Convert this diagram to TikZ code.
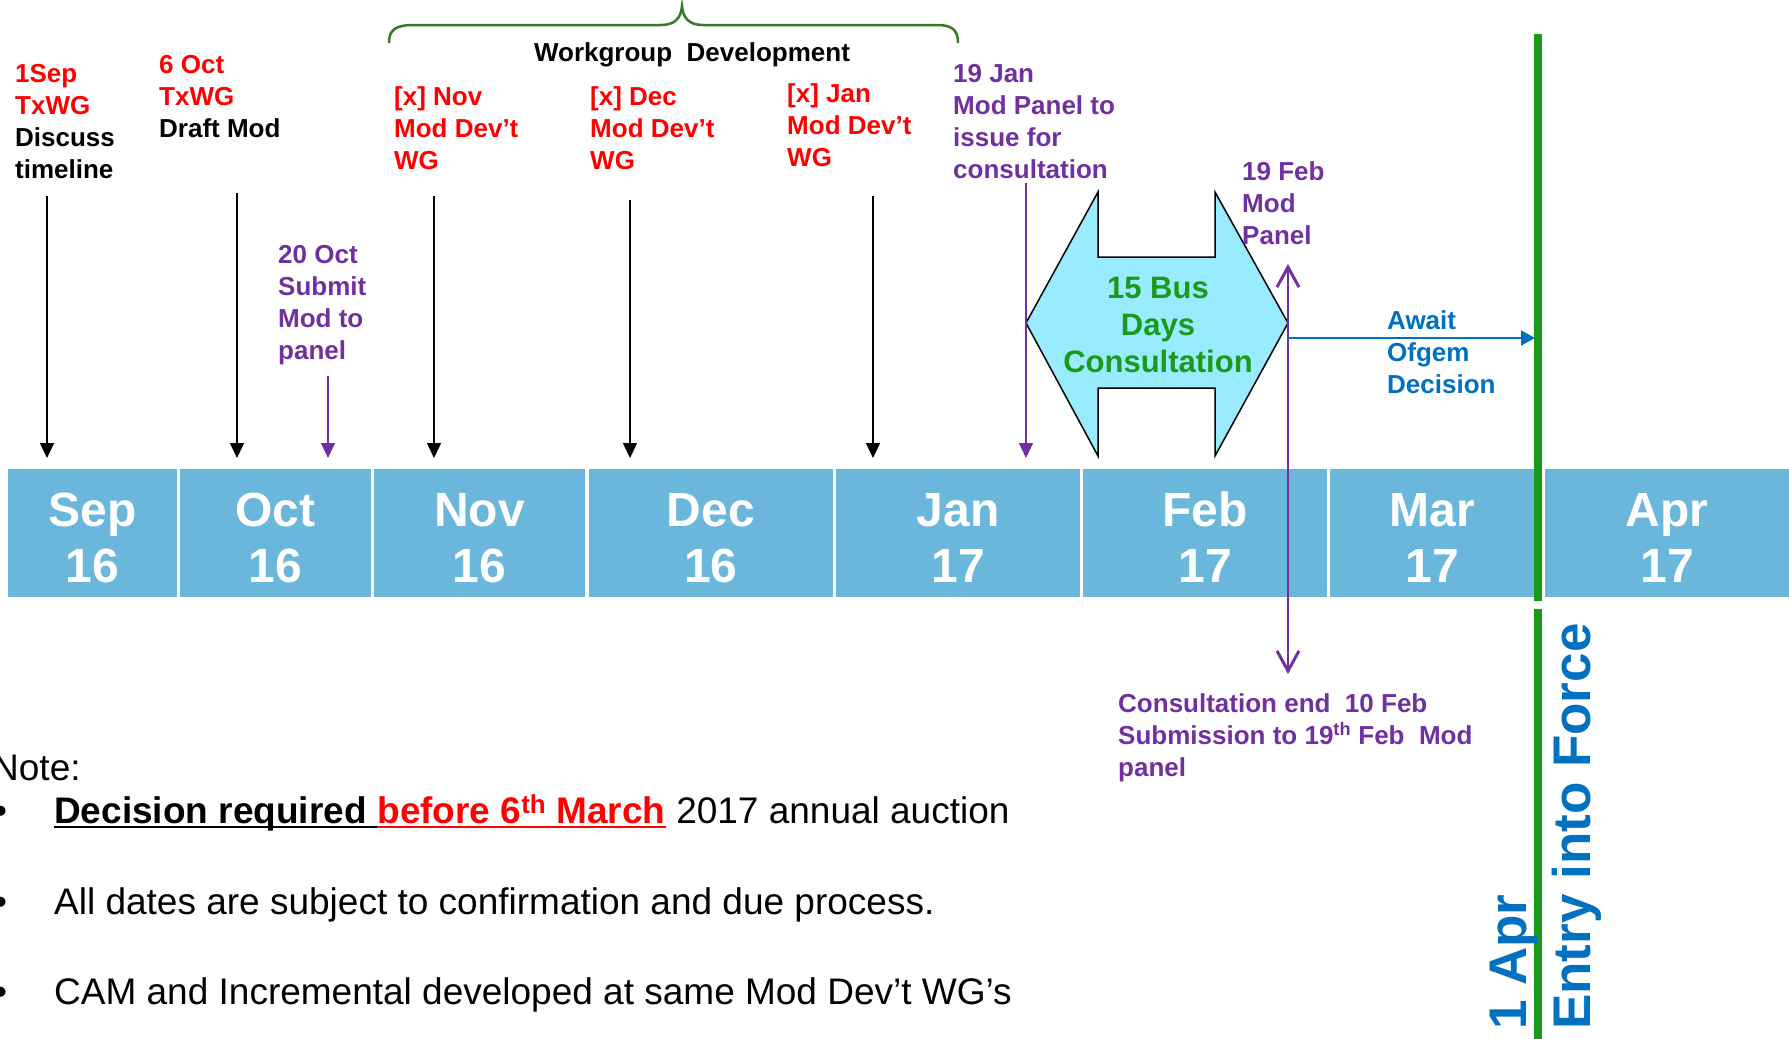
\documentclass[tikz,border=0pt]{standalone}
\usepackage{fontspec}
\setmainfont{Liberation Sans}
\usetikzlibrary{arrows.meta}

\definecolor{barblue}{RGB}{107,183,220}
\definecolor{consfill}{RGB}{153,235,255}
\definecolor{modpurple}{RGB}{112,48,160}
\definecolor{ofgemblue}{RGB}{0,112,192}
\definecolor{forcegreen}{RGB}{26,154,26}
\definecolor{bracegreen}{RGB}{56,118,40}
\definecolor{wgred}{RGB}{255,0,0}

\tikzstyle{month}=[fill=barblue,text=white,align=center,inner sep=0pt,minimum height=128pt,text height=98pt,text depth=0pt,font=\bfseries\fontsize{48}{56}\selectfont]
\tikzstyle{lbl}=[anchor=north west,align=left,inner sep=0pt,font=\bfseries\fontsize{26}{32}\selectfont]
\tikzstyle{blackarrow}=[draw,line width=1.5pt,-{Triangle[length=15pt,width=14pt]}]
\tikzstyle{purplearrow}=[draw,modpurple,line width=1.2pt,-{Triangle[length=15pt,width=14pt]}]
\tikzstyle{note}=[anchor=base west,inner sep=0pt,font=\fontsize{37}{44}\selectfont]
\tikzstyle{force}=[anchor=base west,rotate=90,inner sep=0pt,text=ofgemblue,font=\bfseries\fontsize{53}{60}\selectfont]
\newcommand{\wg}[1]{\textcolor{wgred}{#1}}

\begin{document}
\begin{tikzpicture}[x=1pt, y=-1pt]
    \useasboundingbox (0,0) rectangle (1789,1039);
    % First we draw the month bar
    \foreach \lft/\rgt/\name/\mon/\yr in {8/177/sep/Sep/16, 180/371/oct/Oct/16, 374/585/nov/Nov/16, 589/833/dec/Dec/16, 836/1080/jan/Jan/17, 1083/1327/feb/Feb/17, 1330/1534/mar/Mar/17, 1545/1789/apr/Apr/17}
        \node[month, minimum width={\rgt-\lft}] (\name) at ({(\lft+\rgt)/2},533) {\mon\\\yr};

    % consultation double arrow
    \draw[fill=consfill, line width=1.5pt] (1026,323) -- (1098,192) -- (1098,257) -- (1215,257) -- (1215,192) -- (1288,323)
        -- (1215,456) -- (1215,388) -- (1098,388) -- (1098,456) -- cycle;
    \node[anchor=north, align=center, inner sep=0pt, text=forcegreen, font=\bfseries\fontsize{31}{37}\selectfont] (consLbl) at (1158,277) {15 Bus\\Days\\Consultation};

    % workgroup brace
    \draw[bracegreen, line width=2.5pt] (389,43) .. controls (389,30) and (395,25) .. (414,25) -- (661,25)
        .. controls (675,25) and (681,18) .. (682,6) .. controls (683,18) and (689,25) .. (703,25) -- (937,25)
        .. controls (952,25) and (958,30) .. (958,43);
    \node[lbl, anchor=north] (wgLbl) at (692,42) {Workgroup\ \ Development};

    % labels
    \node[lbl] (sepLbl) at (15,64) {\wg{1Sep}\\\wg{TxWG}\\Discuss\\timeline};
    \node[lbl] (octLbl) at (159,55) {\wg{6 Oct}\\\wg{TxWG}\\Draft Mod};
    \node[lbl, text=wgred] (novLbl) at (394,86) {[x] Nov\\Mod Dev’t\\WG};
    \node[lbl, text=wgred] (decLbl) at (590,86) {[x] Dec\\Mod Dev’t\\WG};
    \node[lbl, text=wgred] (janLbl) at (787,83) {[x] Jan\\Mod Dev’t\\WG};
    \node[lbl, text=modpurple] (submitLbl) at (278,245) {20 Oct\\Submit\\Mod to\\panel};
    \node[lbl, text=modpurple] (issueLbl) at (953,64) {19 Jan\\Mod Panel to\\issue for\\consultation};
    \node[lbl, text=modpurple] (panelLbl) at (1242,161) {19 Feb\\Mod\\Panel};
    \node[lbl, text=ofgemblue] (ofgemLbl) at (1387,310) {Await\\Ofgem\\Decision};
    \node[lbl, text=modpurple] (endLbl) at (1118,693) {Consultation end\ \ 10 Feb\\Submission to 19\textsuperscript{th} Feb\ \ Mod\\panel};

    % arrow end points
    \coordinate (sepT) at (47,196);      \coordinate (sepB) at (47,458);
    \coordinate (octT) at (237,193);     \coordinate (octB) at (237,458);
    \coordinate (novT) at (434,196);     \coordinate (novB) at (434,458);
    \coordinate (decT) at (630,200);     \coordinate (decB) at (630,458);
    \coordinate (janT) at (873,196);     \coordinate (janB) at (873,458);
    \coordinate (submitT) at (328,376);  \coordinate (submitB) at (328,458);
    \coordinate (issueT) at (1026,183);  \coordinate (issueB) at (1026,458);
    \coordinate (panelT) at (1288,264);  \coordinate (panelB) at (1288,674);
    \coordinate (ofgemS) at (1288,338);  \coordinate (ofgemE) at (1535,338);
    \coordinate (forceT) at (1538,34);   \coordinate (forceM) at (1538,601);
    \coordinate (forceN) at (1538,609);  \coordinate (forceB) at (1538,1039);

    % connect them
    \foreach \source/\dest in {sepT/sepB, octT/octB, novT/novB, decT/decB, janT/janB}
        \path[blackarrow] (\source) -- (\dest);
    \foreach \source/\dest in {submitT/submitB, issueT/issueB}
        \path[purplearrow] (\source) -- (\dest);
    \path[draw, modpurple, line width=1.5pt, {Straight Barb[length=20pt,width=22pt,line width=3pt]}-{Straight Barb[length=20pt,width=22pt,line width=3pt]}] (panelT) -- (panelB);
    \path[draw, ofgemblue, line width=2pt, -{Triangle[length=14pt,width=15pt]}] (ofgemS) -- (ofgemE);
    \path[draw, forcegreen, line width=8pt] (forceT) -- (forceM) (forceN) -- (forceB);

    % entry into force
    \node[force] (aprLbl) at (1526,1030) {1 Apr};
    \node[force] (entryLbl) at (1590,1030) {Entry into Force};

    % notes
    \node[note] (noteHd) at (-8,780) {Note:};
    \foreach \y/\name in {823/bA, 914/bB, 1004/bC}
        \node[note] (\name) at (-6,\y) {•};
    \node[note] (decA) at (54,823) {\bfseries Decision required\kern 10.3pt};
    \node[note, text=wgred] (decB) at (decA.base east) {\bfseries before 6\textsuperscript{th} March};
    \node[note] (decC) at (decB.base east) {\ 2017 annual auction};
    \draw[line width=2.5pt] ([yshift=-4pt]decA.base west) -- ([yshift=-4pt]decA.base east);
    \draw[wgred, line width=2.5pt] ([yshift=-4pt]decB.base west) -- ([yshift=-4pt]decB.base east);
    \node[note] (datesTxt) at (54,914) {All dates are subject to confirmation and due process.};
    \node[note] (camTxt) at (54,1004) {CAM and Incremental developed at same Mod Dev’t WG’s};
\end{tikzpicture}
\end{document}
